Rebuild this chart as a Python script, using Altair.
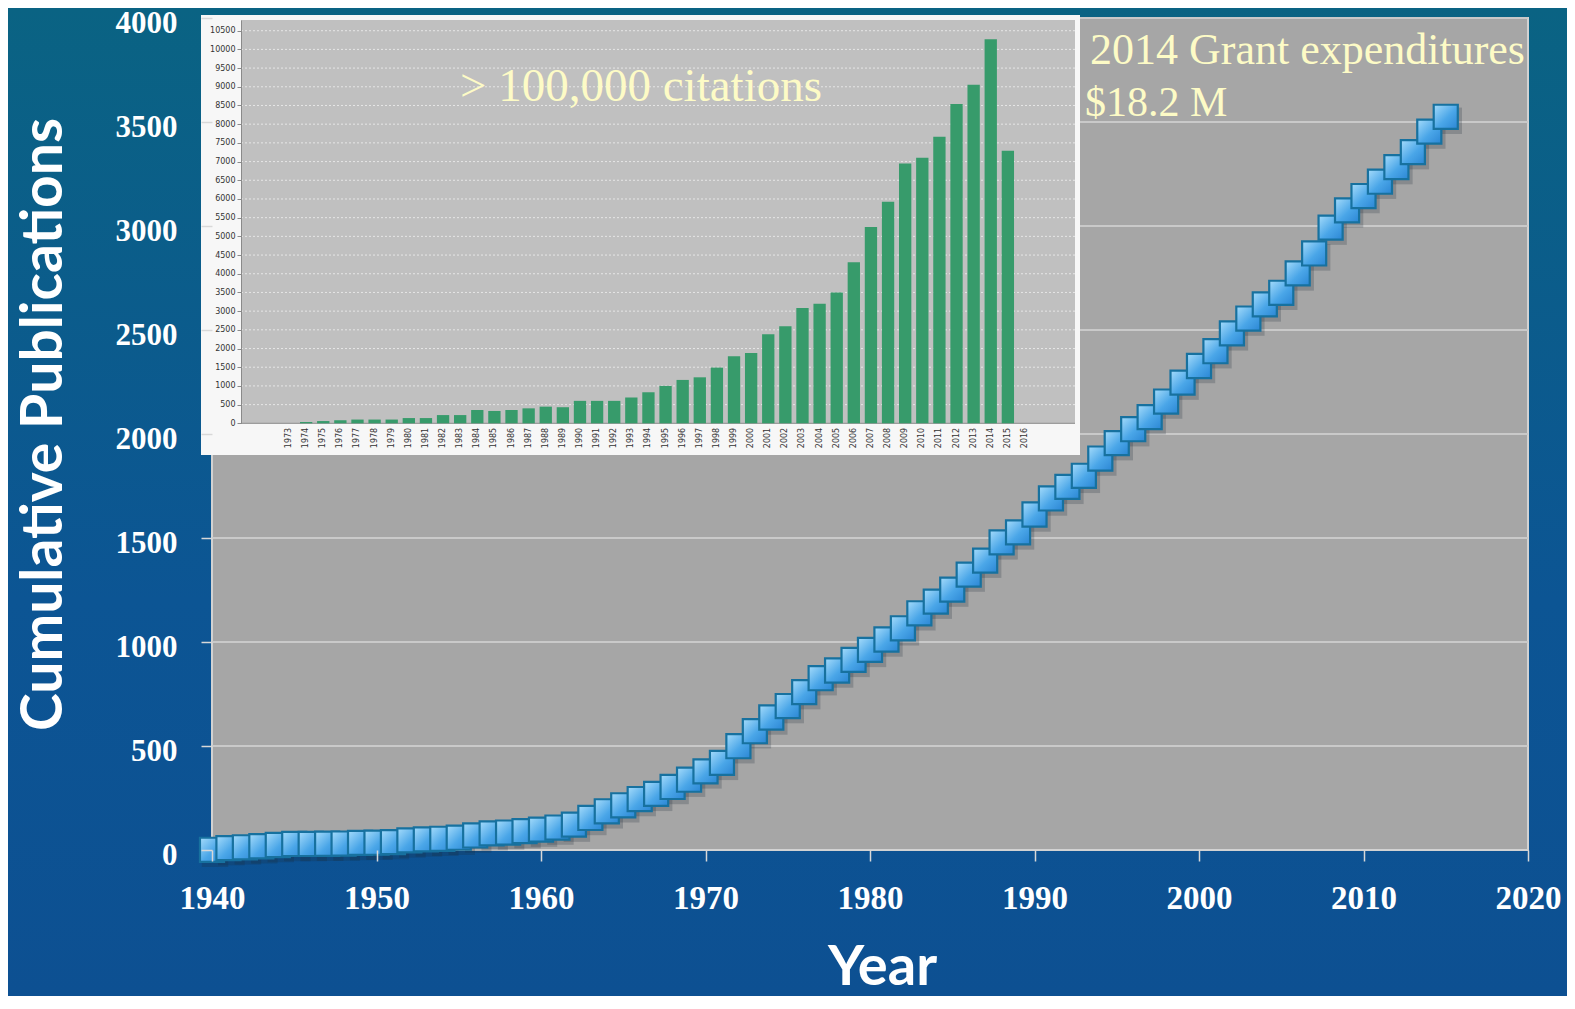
import altair as alt
import pandas as pd

# ---- main series: cumulative publications per year ----
years = list(range(1940, 2016))
pubs = [1, 9, 13, 18, 24, 29, 29, 30, 31, 34,
        35, 38, 46, 51, 54, 59, 70, 80, 84, 91,
        98, 108, 122, 154, 186, 215, 245, 270, 303, 338,
        378, 419, 499, 571, 637, 692, 759, 826, 863, 914,
        962, 1012, 1066, 1138, 1194, 1252, 1324, 1391, 1479, 1527,
        1613, 1690, 1746, 1799, 1882, 1956, 2023, 2081, 2156, 2247,
        2327, 2398, 2484, 2555, 2623, 2679, 2772, 2868, 2992, 3075,
        3144, 3213, 3283, 3355, 3454, 3525]

x_ticks = list(range(1940, 2021, 10))
y_ticks = list(range(0, 4001, 500))

# ---- inset: citations per year ----
cite_years = [str(y) for y in range(1973, 2017)]
cites = [0, 35, 60, 80, 100, 100, 100, 140, 140, 220,
         220, 355, 330, 355, 400, 445, 430, 600, 600, 600,
         690, 830, 1000, 1160, 1230, 1490, 1790, 1880, 2380, 2595,
         3085, 3200, 3500, 4305, 5250, 5925, 6945, 7105, 7665, 8540,
         9055, 10270, 7290, 0]
cite_ticks = list(range(0, 10501, 500))

title_inset = "> 100,000 citations"
note_line1 = "2014 Grant expenditures"
note_line2 = "$18.2 M"

W, H = 1316, 832
PAD = {"left": 204, "top": 10, "right": 39, "bottom": 146}

main_df = pd.DataFrame({"year": years, "pubs": pubs})
grid_df = pd.DataFrame({"pubs": y_ticks[1:]})
cite_df = pd.DataFrame({"year": cite_years, "cites": cites})
cgrid_df = pd.DataFrame({"cites": cite_ticks[1:]})
one = alt.Data(values=[{}])

xs = alt.Scale(domain=[1940, 2020], nice=False, zero=False)
ys = alt.Scale(domain=[0, 4000], nice=False)

label_font = "Liberation Serif"
x_axis = alt.Axis(values=x_ticks, format="d", grid=False, domain=False,
                  labelFont=label_font, labelFontWeight="bold", labelFontSize=33,
                  labelColor="white", labelPadding=21, labelFlush=False, labelOverlap=False,
                  tickColor="#d8d8d8", tickSize=11, tickWidth=1.5, zindex=1,
                  title="Year", titleFont="Lato", titleFontWeight="bold", titleFontSize=56,
                  titleColor="white", titleX=670, titleY=134, titleBaseline="alphabetic")
y_axis = alt.Axis(values=y_ticks, format="d", grid=False, domain=False,
                  labelFont=label_font, labelFontWeight="bold", labelFontSize=31,
                  labelColor="white", labelPadding=24, labelOffset=5,
                  labelFlush=False, labelOverlap=False,
                  tickColor="#d8d8d8", tickSize=11, tickWidth=1.5, zindex=1,
                  title="Cumulative Publications", titleFont="Lato", titleFontWeight="bold",
                  titleFontSize=57, titleColor="white", titleAngle=270,
                  titleX=-168, titleY=406, titleBaseline="middle")

bg = alt.Chart(one).mark_rect(
    fill=alt.LinearGradient(gradient="linear",
                            stops=[alt.GradientStop(color="#0a6383", offset=0),
                                   alt.GradientStop(color="#0c5594", offset=0.6),
                                   alt.GradientStop(color="#0d5092", offset=1)],
                            x1=0, x2=0, y1=0, y2=1),
).encode(x=alt.value(-PAD["left"]), x2=alt.value(W + PAD["right"]),
         y=alt.value(-PAD["top"]), y2=alt.value(H + PAD["bottom"]))

plot_bg = alt.Chart(one).mark_rect(fill="#a6a6a6", stroke="#d2d2d2", strokeWidth=2).encode(
    x=alt.value(0), x2=alt.value(W), y=alt.value(0), y2=alt.value(H))

grid = alt.Chart(grid_df).mark_rule(color="#c9c9c9", strokeWidth=2).encode(
    y=alt.Y("pubs:Q", scale=ys, axis=y_axis), x=alt.value(0), x2=alt.value(W))

shadow = alt.Chart(main_df).mark_point(shape="square", filled=True, color="#1c2a38",
                                       opacity=0.22, size=700, xOffset=3, yOffset=4).encode(
    x=alt.X("year:Q", scale=xs, axis=x_axis), y=alt.Y("pubs:Q", scale=ys, axis=y_axis))

markers = alt.Chart(main_df).mark_point(
    shape="square", filled=True, size=580, opacity=1,
    fill=alt.LinearGradient(gradient="linear",
                            stops=[alt.GradientStop(color="#a6dcfb", offset=0),
                                   alt.GradientStop(color="#4aa6e8", offset=0.55),
                                   alt.GradientStop(color="#2b86d4", offset=1)],
                            x1=0, x2=1, y1=0, y2=1),
    stroke="#17719f", strokeWidth=2.2,
).encode(x=alt.X("year:Q", scale=xs, axis=x_axis),
         y=alt.Y("pubs:Q", scale=ys, axis=y_axis))

main = alt.layer(bg, plot_bg, grid, shadow, markers)

# ---- inset ----
ix = alt.Scale(type="band", domain=cite_years, range=[62.3, 827.7], paddingInner=0.28, paddingOuter=0.5)
iy = alt.Scale(domain=[0, 10786], range=[405.3, 2.0], nice=False, zero=True)

ix_axis = alt.Axis(orient="bottom", offset=-426.7, labelAngle=270, labelFont="DejaVu Sans",
                   labelFontSize=8, labelColor="#333333", labelPadding=4, tickSize=0,
                   domain=False, grid=False, title=None, zindex=1, labelOverlap=False)
iy_axis = alt.Axis(orient="left", offset=-29, values=cite_ticks, format="d",
                   labelFont="DejaVu Sans", labelFontSize=8, labelColor="#333333",
                   labelPadding=2, tickSize=4, tickColor="#8a8a8a", domainColor="#8a8a8a",
                   grid=False, title=None, zindex=1, labelOverlap=False, labelFlush=False)

inset_box = alt.Chart(one).mark_rect(fill="#f7f7f7").encode(
    x=alt.value(-11), x2=alt.value(868), y=alt.value(-3), y2=alt.value(437))
inset_plot = alt.Chart(one).mark_rect(fill="#c0c0c0").encode(
    x=alt.value(29), x2=alt.value(863), y=alt.value(2), y2=alt.value(405.3))
inset_grid = alt.Chart(cgrid_df).mark_rule(color="#e6e6e6", strokeWidth=1, strokeDash=[2, 2]).encode(
    y=alt.Y("cites:Q", scale=iy, axis=iy_axis), x=alt.value(29), x2=alt.value(863))
inset_base = alt.Chart(one).mark_rule(color="#8a8a8a", strokeWidth=1).encode(
    x=alt.value(29), x2=alt.value(863), y=alt.value(405.3))

bars = alt.Chart(cite_df).mark_bar(color="#379b6b").encode(
    x=alt.X("year:N", scale=ix, axis=ix_axis, sort=None),
    y=alt.Y("cites:Q", scale=iy, axis=iy_axis))

inset = alt.layer(inset_box, inset_plot, inset_grid, inset_base, bars)

# ---- annotations ----
txt_color = "#fdfbc6"
t1 = alt.Chart(one).mark_text(font="Liberation Serif", fontSize=47, color=txt_color,
                              align="left", baseline="alphabetic").encode(
    x=alt.value(248), y=alt.value(83), text=alt.value(title_inset))
t2 = alt.Chart(one).mark_text(font="Liberation Serif", fontSize=44, color=txt_color,
                              align="left", baseline="alphabetic").encode(
    x=alt.value(878), y=alt.value(46), text=alt.value(note_line1))
t3 = alt.Chart(one).mark_text(font="Liberation Serif", fontSize=42, color=txt_color,
                              align="left", baseline="alphabetic").encode(
    x=alt.value(873), y=alt.value(98), text=alt.value(note_line2))

chart = alt.layer(main, inset, t1, t2, t3).resolve_scale(
    x="independent", y="independent"
).properties(
    width=W, height=H, padding=PAD,
    autosize=alt.AutoSizeParams(type="none"),
).configure_view(stroke=None)

chart.save("out.html", embed_options={"renderer": "svg", "actions": False})
